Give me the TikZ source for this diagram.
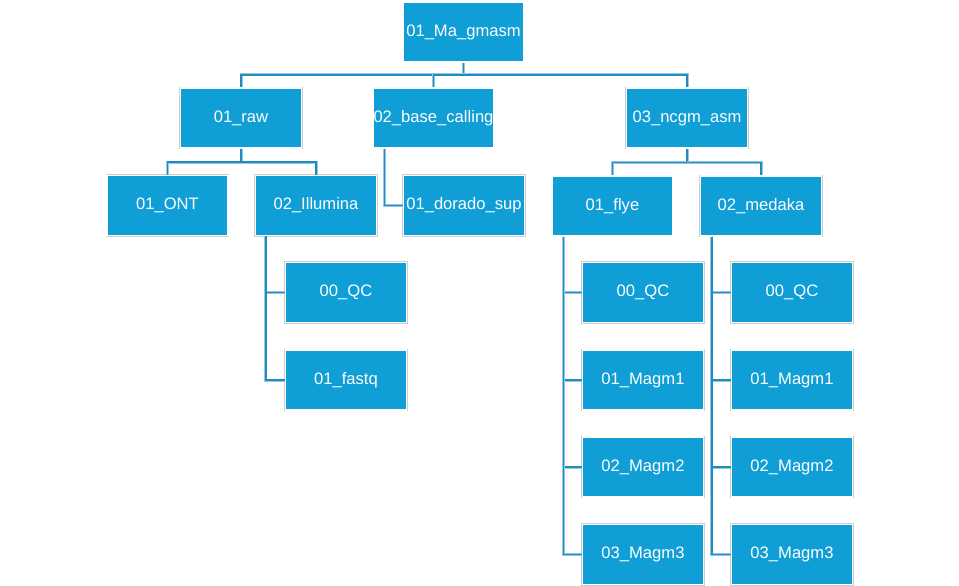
\documentclass[tikz,border=0pt]{standalone}
\usepackage{fontspec}
\setmainfont{Liberation Sans}
\definecolor{boxblue}{RGB}{15,158,213}
\definecolor{lineblue}{RGB}{30,140,195}
\definecolor{halo}{RGB}{150,200,228}
\definecolor{rim}{RGB}{205,205,205}
\begin{document}
\begin{tikzpicture}[x=1pt,y=-1pt,
  box/.style={rectangle, minimum width=121pt, minimum height=60pt, inner sep=0pt,
    fill=boxblue, draw=white, line width=1.2pt, text=white,
    font=\fontsize{16.6}{19}\selectfont,
    preaction={draw=rim, line width=2.6pt}},
  conn/.style={draw=lineblue, line width=1.8pt,
    preaction={draw=halo, line width=3pt}}]
\useasboundingbox (0,0) rectangle (959,586);
% nodes
\node[box] (root) at (463.5,32) {01\_Ma\_gmasm};
\node[box] (raw) at (241,118) {01\_raw};
\node[box] (base) at (433.5,118) {02\_base\_calling};
\node[box] (ncgm) at (687,118) {03\_ncgm\_asm};
\node[box] (ont) at (167.5,205.5) {01\_ONT};
\node[box] (ill) at (316,205.5) {02\_Illumina};
\node[box] (dor) at (464,205.5) {01\_dorado\_sup};
\node[box] (flye) at (612.5,206) {01\_flye};
\node[box] (med) at (761,206) {02\_medaka};
\node[box] (iqc) at (346,292.5) {00\_QC};
\node[box] (ifq) at (346,380) {01\_fastq};
\node[box] (fqc) at (643,292.5) {00\_QC};
\node[box] (fm1) at (643,380) {01\_Magm1};
\node[box] (fm2) at (643,467) {02\_Magm2};
\node[box] (fm3) at (643,554.5) {03\_Magm3};
\node[box] (mqc) at (792,292.5) {00\_QC};
\node[box] (mm1) at (792,380) {01\_Magm1};
\node[box] (mm2) at (792,467) {02\_Magm2};
\node[box] (mm3) at (792,554.5) {03\_Magm3};
% junctions
\coordinate (rj) at (463.5,75);
\coordinate (rawj) at (241,162);
\coordinate (ncj) at (687,162.5);
% connectors
\draw[conn] (root.south) -- (rj) -| (raw.north);
\draw[conn] (rj) -| (base.north);
\draw[conn] (rj) -| (ncgm.north);
\draw[conn] (raw.south) -- (rawj) -| (ont.north);
\draw[conn] (rawj) -| (ill.north);
\draw[conn] (ncgm.south) -- (ncj) -| (flye.north);
\draw[conn] (ncj) -| (med.north);
\draw[conn] ([xshift=12pt]base.south west) |- (dor.west);
\draw[conn] ([xshift=11pt]ill.south west) |- (iqc.west);
\draw[conn] ([xshift=11pt]ill.south west) |- (ifq.west);
\draw[conn] ([xshift=12pt]flye.south west) |- (fqc.west);
\draw[conn] ([xshift=12pt]flye.south west) |- (fm1.west);
\draw[conn] ([xshift=12pt]flye.south west) |- (fm2.west);
\draw[conn] ([xshift=12pt]flye.south west) |- (fm3.west);
\draw[conn] ([xshift=12pt]med.south west) |- (mqc.west);
\draw[conn] ([xshift=12pt]med.south west) |- (mm1.west);
\draw[conn] ([xshift=12pt]med.south west) |- (mm2.west);
\draw[conn] ([xshift=12pt]med.south west) |- (mm3.west);
\end{tikzpicture}
\end{document}
